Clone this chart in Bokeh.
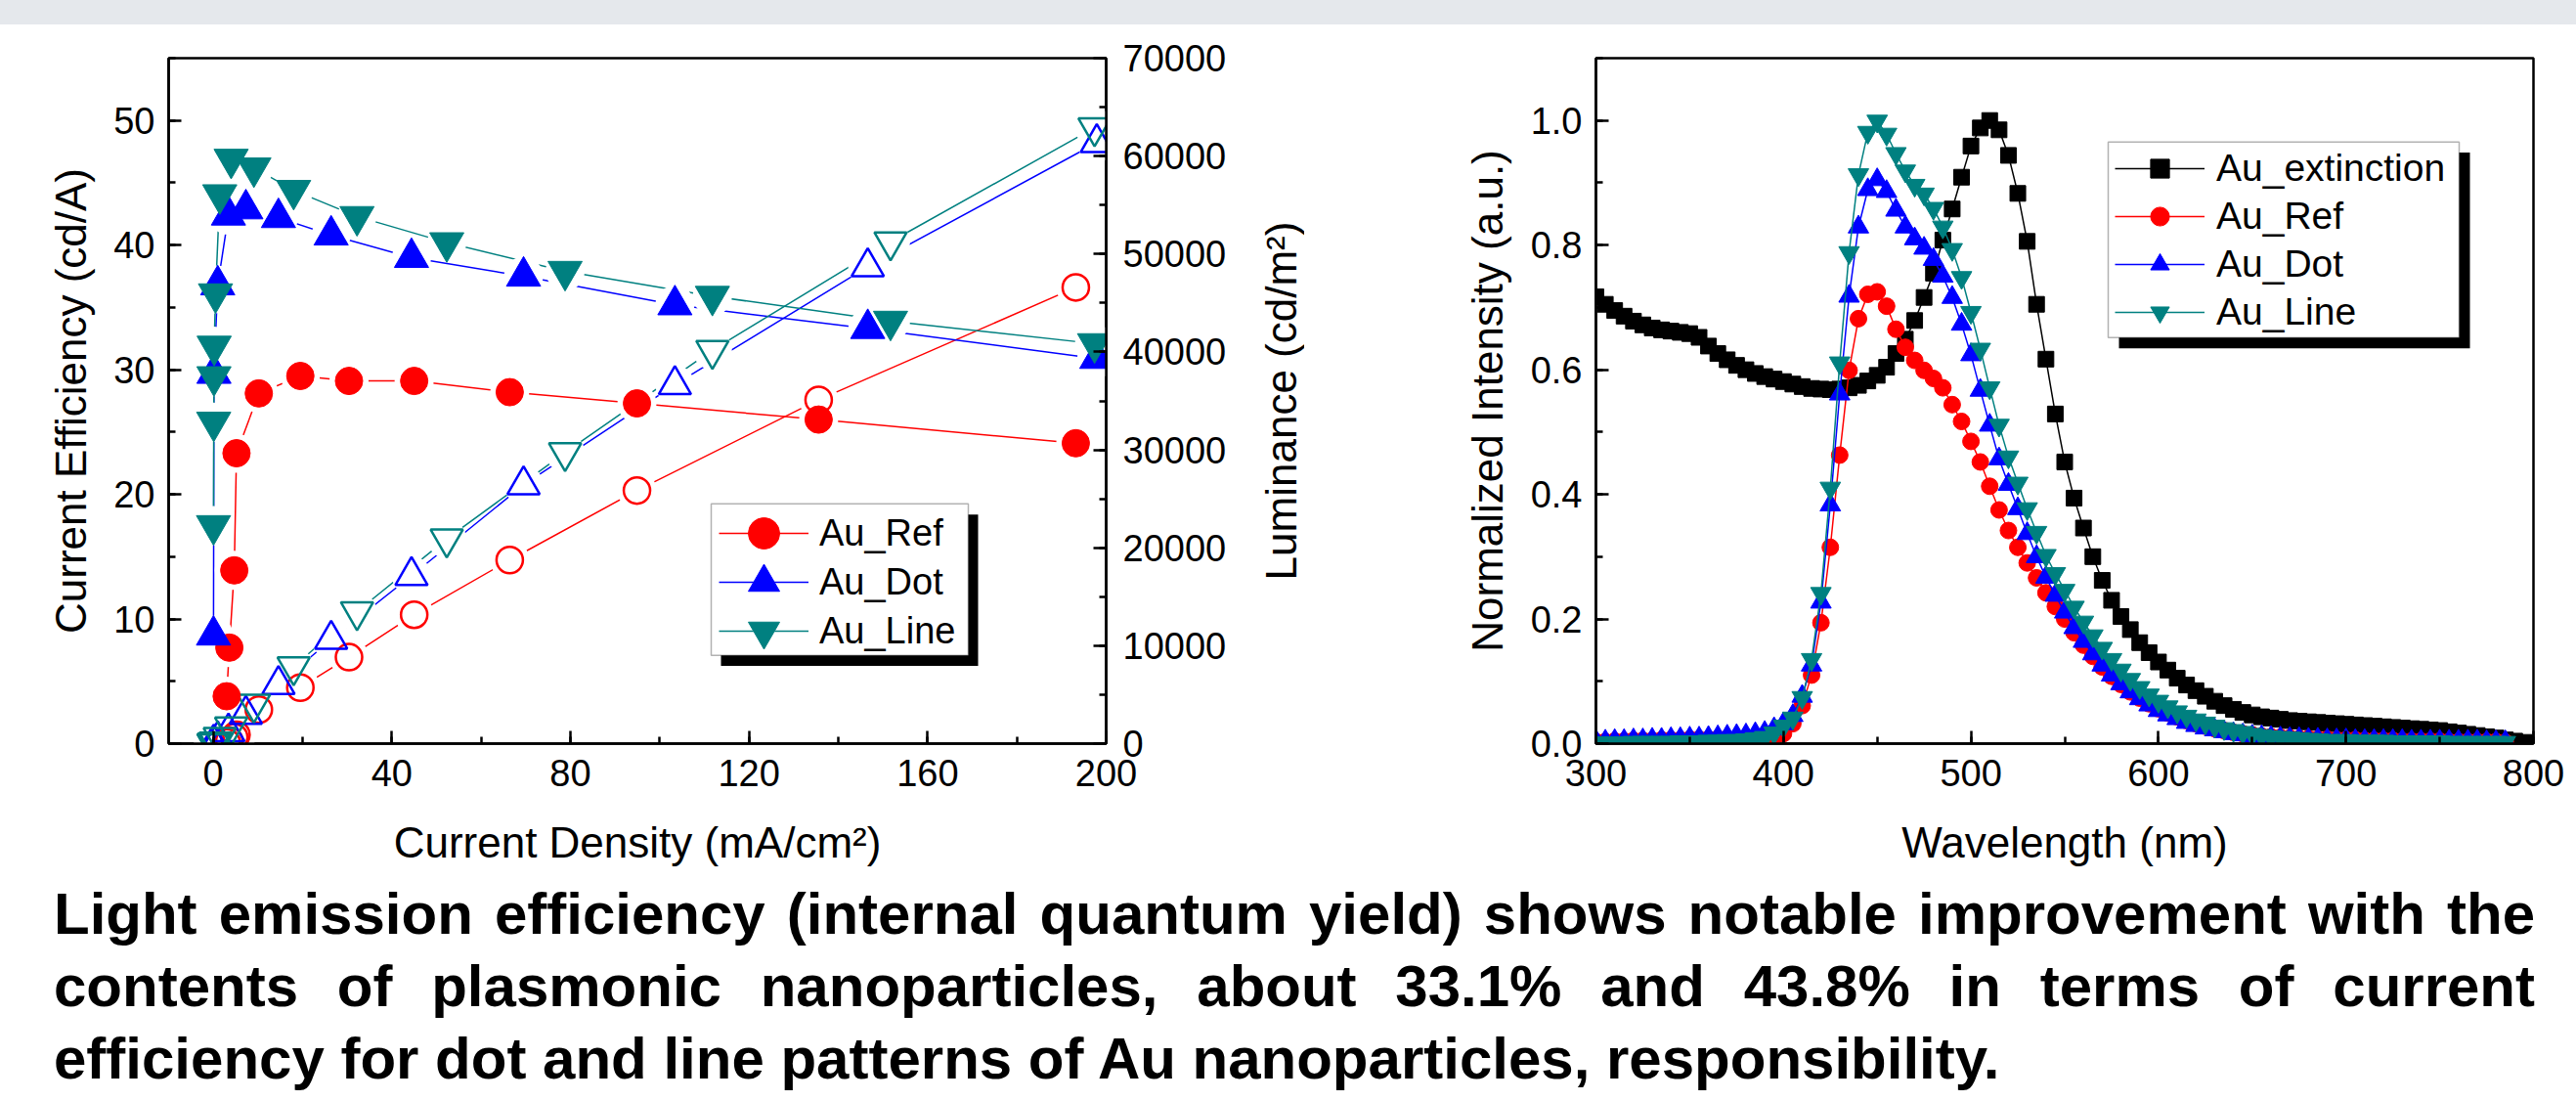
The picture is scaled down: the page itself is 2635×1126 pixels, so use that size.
from bokeh.plotting import figure
from bokeh.models import (Range1d, LinearAxis, SingleIntervalTicker, FixedTicker, Legend, LegendItem,
                          BoxAnnotation, PrintfTickFormatter, Div)
from bokeh.layouts import row, column
from bokeh.embed import file_html
from bokeh.resources import INLINE

FONT = "Liberation Sans"

# ---------------- Left panel: current efficiency / luminance vs current density ----------------
J_REF = [3.0, 3.6, 4.7, 5.2, 10.2, 19.5, 30.4, 45.0, 66.4, 94.9, 135.6, 193.2]
CE_REF = [3.8, 7.7, 13.9, 23.3, 28.1, 29.5, 29.1, 29.1, 28.2, 27.3, 26.0, 24.1]
LUM_REF = [120, 290, 650, 900, 3470, 5720, 8830, 13160, 18750, 25850, 35110, 46590]

J_DOT = [0.05, 0.15, 1.0, 3.4, 7.3, 14.6, 26.4, 44.4, 69.5, 103.4, 146.6, 197.9]
CE_DOT = [8.7, 29.7, 36.8, 42.4, 42.9, 42.2, 40.8, 39.0, 37.5, 35.2, 33.3, 30.9]
LUM_DOT = [0, 40, 370, 1190, 2975, 6020, 10640, 17150, 26420, 36650, 48690, 61360]

J_LINE = [0.05, 0.1, 0.15, 0.2, 0.5, 1.45, 4.0, 9.1, 18.0, 32.2, 52.3, 78.8, 111.8, 151.7, 197.4]
CE_LINE = [17.5, 25.8, 29.45, 31.9, 36.1, 44.05, 46.9, 46.2, 44.4, 42.3, 40.2, 37.9, 35.9, 33.9, 32.1]
LUM_LINE = [0, 25, 45, 65, 180, 640, 1715, 4035, 7860, 13480, 20910, 29720, 40170, 51250, 62900]

SERIES_NAMES = ["Au_Ref", "Au_Dot", "Au_Line"]

# ---------------- Right panel: normalized spectra ----------------
WL_EXT = [300, 305, 310, 315, 320, 325, 330, 335, 340, 345, 350, 355, 360, 365, 370, 375, 380, 385, 390, 395,
          400, 405, 410, 415, 420, 425, 430, 435, 440, 445, 450, 455, 460, 465, 470, 475, 480, 485, 490, 495,
          500, 505, 510, 515, 520, 525, 530, 535, 540, 545, 550, 555, 560, 565, 570, 575, 580, 585, 590, 595,
          600, 605, 610, 615, 620, 625, 630, 635, 640, 645, 650, 655, 660, 665, 670, 675, 680, 685, 690, 695,
          700, 705, 710, 715, 720, 725, 730, 735, 740, 745, 750, 755, 760, 765, 770, 775, 780, 785, 790, 795, 800]
AU_EXTINCTION = [
    0.717, 0.705, 0.695, 0.686, 0.678, 0.672, 0.667, 0.664, 0.662, 0.660, 0.658, 0.652, 0.638, 0.626, 0.616, 0.607, 0.600, 0.594, 0.589, 0.585,
    0.581, 0.577, 0.573, 0.570, 0.569, 0.568, 0.569, 0.571, 0.575, 0.582, 0.591, 0.604, 0.626, 0.649, 0.679, 0.716, 0.755, 0.808, 0.858, 0.909,
    0.959, 0.988, 1.000, 0.985, 0.944, 0.883, 0.806, 0.705, 0.617, 0.529, 0.452, 0.394, 0.346, 0.300, 0.262, 0.230, 0.204, 0.183, 0.162, 0.146,
    0.131, 0.118, 0.105, 0.094, 0.085, 0.076, 0.068, 0.061, 0.055, 0.050, 0.046, 0.043, 0.041, 0.039, 0.037, 0.036, 0.035, 0.034, 0.033, 0.032,
    0.031, 0.030, 0.029, 0.028, 0.027, 0.026, 0.025, 0.024, 0.023, 0.022, 0.021, 0.019, 0.017, 0.015, 0.013, 0.011, 0.009, 0.006, 0.004, 0.002, 0.000]

WL_EL = [300, 305, 310, 315, 320, 325, 330, 335, 340, 345, 350, 355, 360, 365, 370, 375, 380, 385, 390, 395,
         400, 405, 410, 415, 420, 425, 430, 435, 440, 445, 450, 455, 460, 465, 470, 475, 480, 485, 490, 495,
         500, 505, 510, 515, 520, 525, 530, 535, 540, 545, 550, 555, 560, 565, 570, 575, 580, 585, 590, 595,
         600, 605, 610, 615, 620, 625, 630, 635, 640, 645, 650, 655, 660, 665, 670, 675, 680, 685, 690, 695,
         700, 705, 710, 715, 720, 725, 730, 735, 740, 745, 750, 755, 760, 765, 770, 775, 780, 785]
EL_REF = [
    0.003, 0.003, 0.004, 0.004, 0.005, 0.005, 0.005, 0.006, 0.006, 0.006, 0.007, 0.007, 0.007, 0.008, 0.008, 0.008, 0.009, 0.009, 0.010, 0.011,
    0.016, 0.032, 0.061, 0.110, 0.194, 0.315, 0.463, 0.599, 0.682, 0.721, 0.725, 0.702, 0.665, 0.636, 0.615, 0.599, 0.586, 0.571, 0.544, 0.517,
    0.485, 0.452, 0.413, 0.375, 0.342, 0.315, 0.290, 0.266, 0.242, 0.220, 0.200, 0.178, 0.158, 0.140, 0.123, 0.108, 0.095, 0.083, 0.073, 0.064,
    0.056, 0.049, 0.043, 0.037, 0.032, 0.028, 0.024, 0.021, 0.018, 0.016, 0.014, 0.012, 0.011, 0.010, 0.009, 0.008, 0.008, 0.007, 0.007, 0.006,
    0.006, 0.006, 0.005, 0.005, 0.005, 0.005, 0.004, 0.004, 0.004, 0.004, 0.004, 0.003, 0.003, 0.003, 0.003, 0.003, 0.003, 0.002]
EL_DOT = [
    0.004, 0.004, 0.005, 0.005, 0.006, 0.006, 0.007, 0.007, 0.008, 0.008, 0.009, 0.009, 0.010, 0.011, 0.012, 0.013, 0.014, 0.016, 0.018, 0.024,
    0.032, 0.045, 0.076, 0.126, 0.227, 0.383, 0.561, 0.718, 0.829, 0.889, 0.905, 0.886, 0.856, 0.829, 0.810, 0.795, 0.777, 0.750, 0.716, 0.673,
    0.624, 0.567, 0.511, 0.457, 0.416, 0.377, 0.337, 0.300, 0.267, 0.238, 0.211, 0.186, 0.164, 0.144, 0.126, 0.110, 0.096, 0.083, 0.072, 0.062,
    0.053, 0.046, 0.040, 0.034, 0.029, 0.025, 0.022, 0.019, 0.016, 0.014, 0.012, 0.011, 0.010, 0.009, 0.008, 0.008, 0.007, 0.007, 0.006, 0.006,
    0.006, 0.005, 0.005, 0.005, 0.005, 0.005, 0.005, 0.004, 0.004, 0.004, 0.004, 0.004, 0.004, 0.004, 0.004, 0.003, 0.003, 0.003]
EL_LINE = [
    0.001, 0.001, 0.001, 0.001, 0.002, 0.002, 0.002, 0.002, 0.002, 0.003, 0.003, 0.003, 0.004, 0.004, 0.005, 0.005, 0.006, 0.008, 0.010, 0.017,
    0.028, 0.041, 0.074, 0.135, 0.241, 0.410, 0.611, 0.788, 0.913, 0.981, 0.999, 0.978, 0.947, 0.919, 0.896, 0.882, 0.859, 0.829, 0.793, 0.748,
    0.692, 0.633, 0.571, 0.511, 0.460, 0.418, 0.377, 0.339, 0.302, 0.273, 0.246, 0.219, 0.195, 0.173, 0.153, 0.135, 0.118, 0.103, 0.090, 0.078,
    0.068, 0.059, 0.051, 0.044, 0.038, 0.033, 0.028, 0.024, 0.021, 0.018, 0.015, 0.013, 0.011, 0.010, 0.009, 0.008, 0.007, 0.006, 0.005, 0.005,
    0.005, 0.004, 0.004, 0.004, 0.004, 0.003, 0.003, 0.003, 0.003, 0.003, 0.003, 0.002, 0.002, 0.002, 0.002, 0.002, 0.002, 0.002]

CAPTION = ("Light emission efficiency (internal quantum yield) shows notable improvement with the "
           "contents of plasmonic nanoparticles, about 33.1% and 43.8% in terms of current "
           "efficiency for dot and line patterns of Au nanoparticles, responsibility.")

assert len(WL_EXT) == len(AU_EXTINCTION)
assert len(WL_EL) == len(EL_REF) == len(EL_DOT) == len(EL_LINE)

RED, BLUE, TEAL, BLACK = "#ff0000", "#0000ff", "#008080", "#000000"


def style_axis(ax, label, label_standoff, tick_standoff):
    ax.axis_label = label
    ax.axis_label_text_font = FONT
    ax.axis_label_text_font_size = "44px"
    ax.axis_label_text_font_style = "normal"
    ax.axis_label_text_color = "black"
    ax.axis_label_standoff = label_standoff
    ax.axis_line_color = "black"
    ax.axis_line_width = 2.5
    ax.major_tick_line_color = "black"
    ax.major_tick_line_width = 2.5
    ax.minor_tick_line_color = "black"
    ax.minor_tick_line_width = 2.5
    ax.major_tick_in = 13
    ax.major_tick_out = 0
    ax.minor_tick_in = 7
    ax.minor_tick_out = 0
    ax.major_label_text_font = FONT
    ax.major_label_text_font_size = "38px"
    ax.major_label_text_color = "black"
    ax.major_label_standoff = tick_standoff


def px_x(px, xr, fw):
    return xr[0] + px / fw * (xr[1] - xr[0])


def px_y(py, yr, fh):
    return yr[1] - py / fh * (yr[1] - yr[0])


def frame_box(fx0, fx1, fy0, fy1, xr, yr, fw, fh, **kw):
    """Box given in pixels from the frame's top-left corner, converted to data units."""
    return BoxAnnotation(left=px_x(fx0, xr, fw), right=px_x(fx1, xr, fw),
                         top=px_y(fy0, yr, fh), bottom=px_y(fy1, yr, fh), **kw)


def legend_row(item, x, y, gw, gh, standoff, size):
    return Legend(items=[item], location=(x, y), orientation="vertical", glyph_width=gw, glyph_height=gh,
                  spacing=0, padding=0, margin=0, label_standoff=standoff,
                  label_text_font=FONT, label_text_font_size=size, label_text_color="black",
                  border_line_color=None, background_fill_alpha=0)


FIG_H = 873
P1_W = 1282
LUM_W = 52
P2_W = 2635 - P1_W - LUM_W

# ================= Left figure =================
X1R, Y1R, L1R = (-10, 200), (0, 55), (0, 70000)
F1W, F1H = 959, 706
p1 = figure(width=P1_W, height=FIG_H, x_range=Range1d(*X1R), y_range=Range1d(*Y1R),
            output_backend="svg", toolbar_location=None,
            min_border_left=172, min_border_right=P1_W - 172 - F1W, min_border_top=34,
            min_border_bottom=FIG_H - 34 - F1H)
p1.extra_y_ranges = {"lum": Range1d(*L1R)}
p1.xgrid.visible = False
p1.ygrid.visible = False
p1.outline_line_color = "black"
p1.outline_line_width = 2.5
p1.outline_line_alpha = 1

p1.xaxis.ticker = SingleIntervalTicker(interval=40, num_minor_ticks=2)
p1.yaxis.ticker = SingleIntervalTicker(interval=10, num_minor_ticks=2)
style_axis(p1.xaxis[0], "Current Density (mA/cm²)", 30, 16)
style_axis(p1.yaxis[0], "Current Efficiency (cd/A)", 16, 14)
lum_axis = LinearAxis(y_range_name="lum", ticker=SingleIntervalTicker(interval=10000, num_minor_ticks=2))
style_axis(lum_axis, None, 0, 17)
p1.add_layout(lum_axis, "right")

series1 = [
    (J_REF, CE_REF, LUM_REF, RED, "circle", 28, 27),
    (J_DOT, CE_DOT, LUM_DOT, BLUE, "triangle", 35, 33),
    (J_LINE, CE_LINE, LUM_LINE, TEAL, "inverted_triangle", 35, 33),
]
HALO = 40
line_r = []
for J, CE, L, c, m, s, so in series1:
    line_r.append(p1.line(J, CE, line_color=c, line_width=1.5))
    p1.line(J, L, line_color=c, line_width=1.5, y_range_name="lum")
for J, CE, L, c, m, s, so in series1:
    p1.scatter(J, CE, marker="circle", size=HALO, fill_color="white", line_color=None)
    p1.scatter(J, L, marker="circle", size=HALO, fill_color="white", line_color=None, y_range_name="lum")
mark_r = []
for J, CE, L, c, m, s, so in series1:
    p1.scatter(J, L, marker=m, size=so, fill_color=None, line_color=c, line_width=2.5, y_range_name="lum")
for J, CE, L, c, m, s, so in series1:
    mark_r.append(p1.scatter(J, CE, marker=m, size=s, fill_color=c, line_color=c, line_width=1))

p1.add_layout(frame_box(565, 828, 470, 626, X1R, Y1R, F1W, F1H,
                        fill_color="black", fill_alpha=1, line_color=None))
p1.add_layout(frame_box(555, 818, 459, 615, X1R, Y1R, F1W, F1H,
                        fill_color="white", fill_alpha=1, line_color="black", line_width=1.5))
GH1 = 80
for k, (name, lr, mr) in enumerate(zip(SERIES_NAMES, line_r, mark_r)):
    row_center = 491 + 50 * k          # px from frame top
    p1.add_layout(legend_row(LegendItem(label=name, renderers=[lr, mr]),
                             563, F1H - row_center - GH1 // 2, 92, GH1, 11, "38px"), "center")

# ---- narrow strip carrying the luminance axis title (reads bottom-to-top like a left axis title) ----
pl = figure(width=LUM_W, height=FIG_H, x_range=Range1d(0, 1), y_range=Range1d(0, 1),
            output_backend="svg", toolbar_location=None, x_axis_location=None,
            min_border_left=0, min_border_right=0, min_border_top=34, min_border_bottom=FIG_H - 34 - F1H)
pl.xgrid.visible = False
pl.ygrid.visible = False
pl.outline_line_color = None
pl.yaxis.ticker = FixedTicker(ticks=[])
pl.yaxis.axis_label = "Luminance (cd/m²)"
pl.yaxis.axis_label_text_font = FONT
pl.yaxis.axis_label_text_font_size = "44px"
pl.yaxis.axis_label_text_font_style = "normal"
pl.yaxis.axis_label_text_color = "black"
pl.yaxis.axis_label_standoff = 0
pl.yaxis.major_label_standoff = 0
pl.yaxis.axis_line_color = None
pl.yaxis.major_tick_line_color = None
pl.yaxis.minor_tick_line_color = None
pl.yaxis.major_tick_out = 0
pl.yaxis.minor_tick_out = 0

# ================= Right figure =================
X2R, Y2R = (300, 800), (0, 1.1)
F2W, F2H = 959, 704
P2_LEFT = 1632 - P1_W - LUM_W
p2 = figure(width=P2_W, height=FIG_H, x_range=Range1d(*X2R), y_range=Range1d(*Y2R),
            output_backend="svg", toolbar_location=None,
            min_border_left=P2_LEFT, min_border_right=P2_W - P2_LEFT - F2W,
            min_border_top=31, min_border_bottom=FIG_H - 31 - F2H)
p2.xgrid.visible = False
p2.ygrid.visible = False
p2.outline_line_color = "black"
p2.outline_line_width = 2.5
p2.outline_line_alpha = 1
p2.xaxis.ticker = SingleIntervalTicker(interval=100, num_minor_ticks=2)
p2.yaxis.ticker = SingleIntervalTicker(interval=0.2, num_minor_ticks=2)
p2.yaxis.formatter = PrintfTickFormatter(format="%.1f")
style_axis(p2.xaxis[0], "Wavelength (nm)", 30, 16)
style_axis(p2.yaxis[0], "Normalized Intensity (a.u.)", 17, 14)

series2 = [
    ("Au_extinction", WL_EXT, AU_EXTINCTION, BLACK, "square", 16),
    ("Au_Ref", WL_EL, EL_REF, RED, "circle", 17),
    ("Au_Dot", WL_EL, EL_DOT, BLUE, "triangle", 21),
    ("Au_Line", WL_EL, EL_LINE, TEAL, "inverted_triangle", 21),
]
items2 = []
for name, x, y, c, m, s in series2:
    lr = p2.line(x, y, line_color=c, line_width=1.5)
    sr = p2.scatter(x, y, marker=m, size=s, fill_color=c, line_color=c, line_width=1)
    items2.append(LegendItem(label=name, renderers=[lr, sr]))

p2.add_layout(frame_box(535, 894, 97, 298, X2R, Y2R, F2W, F2H,
                        fill_color="black", fill_alpha=1, line_color=None))
p2.add_layout(frame_box(524, 883, 86, 287, X2R, Y2R, F2W, F2H,
                        fill_color="white", fill_alpha=1, line_color="black", line_width=1.5))
leg2 = Legend(items=items2, location=(531, 417), orientation="vertical", glyph_width=92, glyph_height=48,
              spacing=1, padding=0, margin=0, label_standoff=12,
              label_text_font=FONT, label_text_font_size="39px", label_text_color="black",
              border_line_color=None, background_fill_alpha=0)
p2.add_layout(leg2, "center")

# ================= Page =================
strip = Div(text="", width=2635, height=25, margin=(0, 0, 0, 0),
            styles={"background-color": "#e5e8ec"})
caption = Div(text=CAPTION, width=2538, height=222, margin=(0, 0, 0, 55),
              styles={"font-family": "'Liberation Sans', Arial, sans-serif", "font-weight": "bold",
                      "font-size": "60px", "line-height": "74px", "text-align": "justify",
                      "color": "black"})

layout = column(strip, row(p1, pl, p2), caption)
open("out.html", "w").write(file_html(layout, INLINE))
